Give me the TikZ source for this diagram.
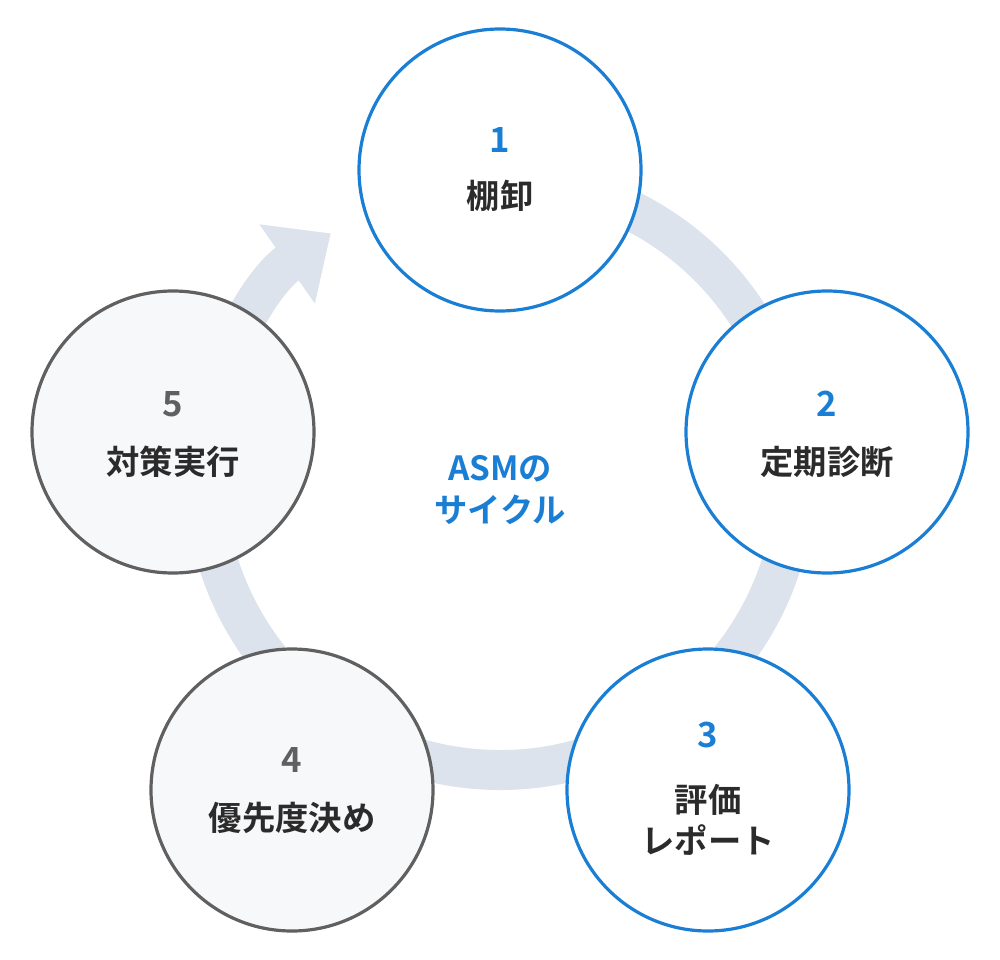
\documentclass[tikz,border=0pt]{standalone}
\usepackage{fontspec}
\setmainfont{Noto Sans CJK JP}[BoldFont={Noto Sans CJK JP Bold}]
\usetikzlibrary{arrows.meta,calc}
\definecolor{bl}{HTML}{1A7FD4}
\definecolor{gr}{HTML}{606060}
\definecolor{ring}{HTML}{DDE3EC}
\definecolor{lf}{HTML}{F7F8FA}
\definecolor{tx}{HTML}{2B2B2B}
\begin{document}
\begin{tikzpicture}[x=0.75pt,y=-0.75pt,
  st/.style={circle,minimum size=282*0.75pt,line width=2.4pt,inner sep=0pt},
  act/.style={st,draw=bl,fill=white},
  pas/.style={st,draw=gr,fill=lf},
  num/.style={font=\bfseries\fontsize{26}{30}\selectfont},
  lab/.style={font=\bfseries\fontsize{25}{31}\selectfont,text=tx,align=center}]
\useasboundingbox (0,0) rectangle (1000,960);
\coordinate (c) at (500,475);
\draw[ring,line width=30pt,-{Triangle[width=70pt,length=40pt]}]
  ($(c)+(-85:295)$) arc[start angle=-85,end angle=235,radius=295];
\node[act] (n1) at (500,170) {};
\node[act] (n2) at (827,432) {};
\node[act] (n3) at (708,790) {};
\node[pas] (n4) at (292,790) {};
\node[pas] (n5) at (173,432) {};
\node[num,text=bl] (t1) at (500,140) {1};
\node[lab] (l1) at (500,196) {棚卸};
\node[num,text=bl] (t2) at (827,404) {2};
\node[lab] (l2) at (827,462) {定期診断};
\node[num,text=bl] (t3) at (708,735) {3};
\node[lab] (l3) at (708,820) {評価\\レポート};
\node[num,text=gr] (t4) at (292,760) {4};
\node[lab] (l4) at (292,818) {優先度決め};
\node[num,text=gr] (t5) at (173,404) {5};
\node[lab] (l5) at (173,462) {対策実行};
\node[lab,text=bl] (asm) at (500,490) {ASMの\\サイクル};
\end{tikzpicture}
\end{document}
